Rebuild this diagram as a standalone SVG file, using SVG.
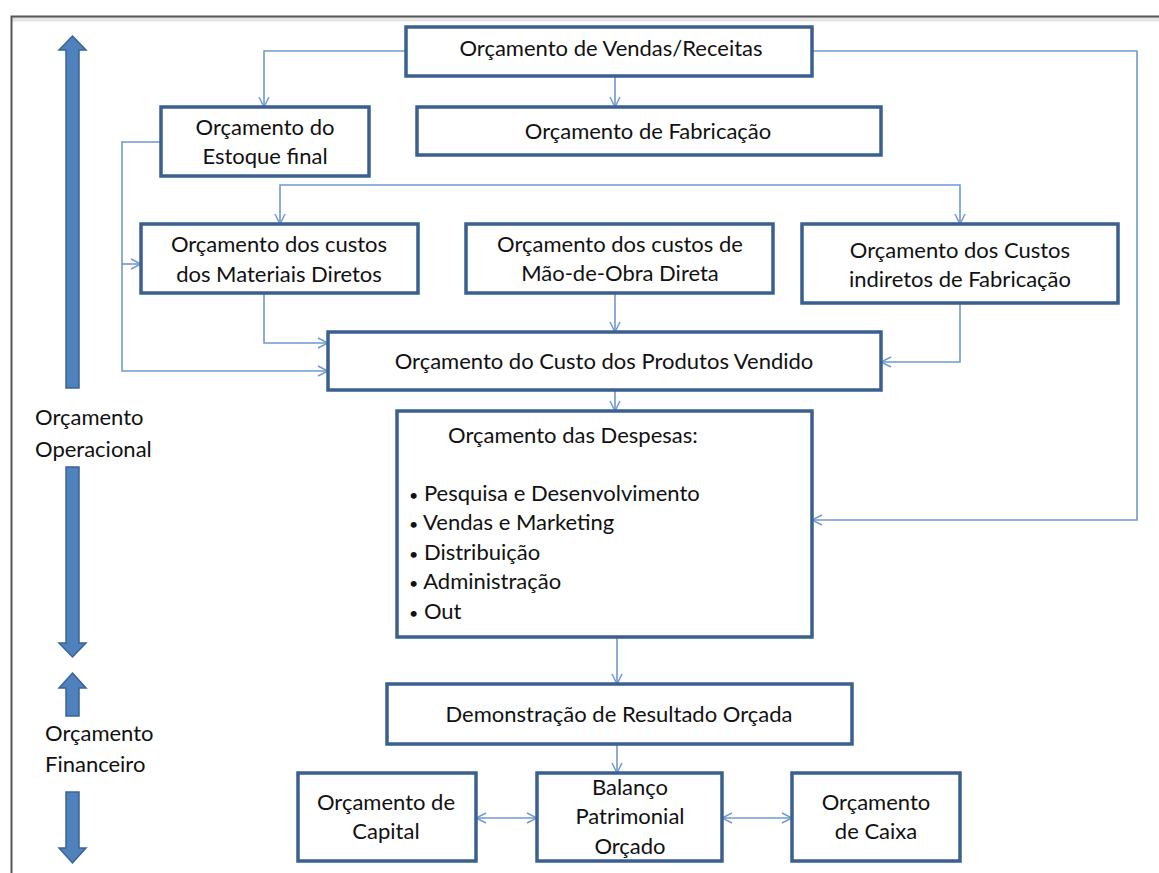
<svg xmlns="http://www.w3.org/2000/svg" width="1159" height="873" viewBox="0 0 1159 873">
<defs>
<style>
.box{fill:#fff;stroke:#3a6090;stroke-width:3.5}
.t{font-family:Lato,"Open Sans","Liberation Sans",sans-serif;font-size:22px;fill:#111;text-anchor:middle}
.tl{font-family:Lato,"Open Sans","Liberation Sans",sans-serif;font-size:22px;fill:#111}
.c{fill:none;stroke:#7099cf;stroke-width:1.6}
.big{fill:#4f81bd;stroke:#3a6494;stroke-width:1.5}
</style>
<marker id="ah" viewBox="0 0 12 12" refX="11" refY="6" markerWidth="12" markerHeight="12" markerUnits="userSpaceOnUse" orient="auto-start-reverse">
<path d="M1,1 L11,6 L1,11" fill="none" stroke="#7099cf" stroke-width="1.5"/>
</marker>
</defs>
<rect width="1159" height="873" fill="#fff"/>
<g id="frame">
<line x1="11" y1="19" x2="1159" y2="19" stroke="#e4e4e4" stroke-width="5"/>
<path d="M11.5,873 V16.5 H1159" fill="none" stroke="#555" stroke-width="2"/>
</g>
<g id="side-arrows">
<polygon class="big" points="72.5,36 86,50 79,50 79,388 66,388 66,50 59,50"/>
<polygon class="big" points="66,467 79,467 79,643 86,643 72.5,657 59,643 66,643"/>
<polygon class="big" points="72.5,673 86,688 79,688 79,716 66,716 66,688 59,688"/>
<polygon class="big" points="66,792 79,792 79,848 86,848 72.5,863 59,848 66,848"/>
</g>
<g id="label-operacional">
<text class="tl" x="35" y="425">Orçamento</text>
<text class="tl" x="35" y="457">Operacional</text>
</g>
<g id="label-financeiro">
<text class="tl" x="45" y="741">Orçamento</text>
<text class="tl" x="45" y="772">Financeiro</text>
</g>
<g id="connectors">
<path class="c" d="M406,51 H264 V107" marker-end="url(#ah)"/>
<path class="c" d="M615,76 V107" marker-end="url(#ah)"/>
<path class="c" d="M812,51 H1137 V520 H812" marker-end="url(#ah)"/>
<path class="c" d="M280,224 V185 H960 V224" marker-start="url(#ah)" marker-end="url(#ah)"/>
<path class="c" d="M161,142 H122 V371 H328" marker-end="url(#ah)"/>
<path class="c" d="M122,264 H141" marker-end="url(#ah)"/>
<path class="c" d="M264,293 V343 H328" marker-end="url(#ah)"/>
<path class="c" d="M615,293 V332" marker-end="url(#ah)"/>
<path class="c" d="M960,303 V362 H881" marker-end="url(#ah)"/>
<path class="c" d="M615,390 V411" marker-end="url(#ah)"/>
<path class="c" d="M617,637 V684" marker-end="url(#ah)"/>
<path class="c" d="M617,744 V773" marker-end="url(#ah)"/>
<path class="c" d="M476,818 H537" marker-start="url(#ah)" marker-end="url(#ah)"/>
<path class="c" d="M722,818 H792" marker-start="url(#ah)" marker-end="url(#ah)"/>
</g>
<g id="n-vendas">
<rect class="box" x="406" y="27" width="406" height="49"/>
<text class="t" x="611" y="56">Orçamento de Vendas/Receitas</text>
</g>
<g id="n-estoque">
<rect class="box" x="161" y="107" width="208" height="69"/>
<text class="t" x="265" y="135">Orçamento do</text>
<text class="t" x="265" y="164">Estoque final</text>
</g>
<g id="n-fabricacao">
<rect class="box" x="417" y="107" width="464" height="48"/>
<text class="t" x="648" y="139">Orçamento de Fabricação</text>
</g>
<g id="n-materiais">
<rect class="box" x="141" y="224" width="277" height="69"/>
<text class="t" x="279" y="252">Orçamento dos custos</text>
<text class="t" x="279" y="282">dos Materiais Diretos</text>
</g>
<g id="n-maodeobra">
<rect class="box" x="466" y="224" width="307" height="69"/>
<text class="t" x="620" y="252">Orçamento dos custos de</text>
<text class="t" x="620" y="281">Mão-de-Obra Direta</text>
</g>
<g id="n-indiretos">
<rect class="box" x="802" y="224" width="316" height="79"/>
<text class="t" x="960" y="258">Orçamento dos Custos</text>
<text class="t" x="960" y="287">indiretos de Fabricação</text>
</g>
<g id="n-cpv">
<rect class="box" x="328" y="332" width="553" height="58"/>
<text class="t" x="604" y="369">Orçamento do Custo dos Produtos Vendido</text>
</g>
<g id="n-despesas">
<rect class="box" x="397" y="411" width="415" height="226"/>
<text class="tl" x="448" y="443">Orçamento das Despesas:</text>
<text class="tl" x="409" y="501"><tspan font-size="16">•</tspan> Pesquisa e  Desenvolvimento</text>
<text class="tl" x="409" y="530"><tspan font-size="16">•</tspan> Vendas e  Marketing</text>
<text class="tl" x="409" y="560"><tspan font-size="16">•</tspan> Distribuição</text>
<text class="tl" x="409" y="589"><tspan font-size="16">•</tspan> Administração</text>
<text class="tl" x="409" y="619"><tspan font-size="16">•</tspan> Out</text>
</g>
<g id="n-demonstracao">
<rect class="box" x="387" y="684" width="465" height="60"/>
<text class="t" x="619" y="722">Demonstração de Resultado Orçada</text>
</g>
<g id="n-capital">
<rect class="box" x="298" y="773" width="178" height="88"/>
<text class="t" x="386" y="810">Orçamento de</text>
<text class="t" x="386" y="839">Capital</text>
</g>
<g id="n-balanco">
<rect class="box" x="537" y="773" width="185" height="88"/>
<text class="t" x="630" y="795">Balanço</text>
<text class="t" x="630" y="824">Patrimonial</text>
<text class="t" x="630" y="854">Orçado</text>
</g>
<g id="n-caixa">
<rect class="box" x="792" y="773" width="168" height="88"/>
<text class="t" x="876" y="810">Orçamento</text>
<text class="t" x="876" y="839">de Caixa</text>
</g>
</svg>
